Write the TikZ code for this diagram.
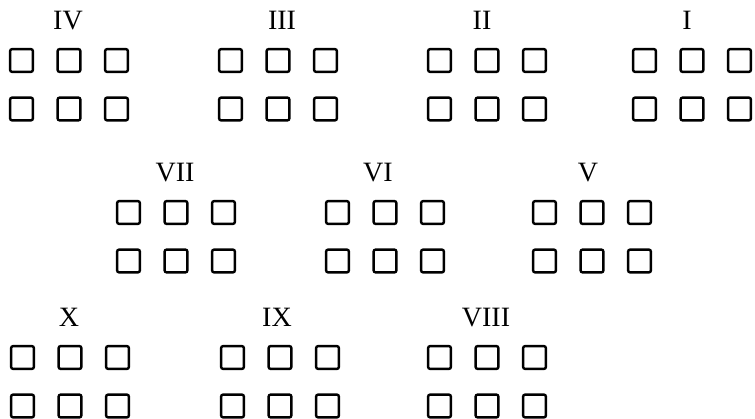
\documentclass[tikz,border=0pt]{standalone}
\usepackage{fontspec}
\setmainfont{Liberation Serif}
\begin{document}
\begin{tikzpicture}[x=0.5pt, y=-0.5pt,
    cell/.style={draw, line width=1.2pt, rounded corners=1pt, minimum size=11.4pt, inner sep=0pt},
    grouplabel/.style={font=\fontsize{14}{16}\selectfont, anchor=base, inner sep=0pt},
]
    \useasboundingbox (0,0) rectangle (755,418);
    % group / left edge / top edge / label centre
    \foreach \grp/\gx/\gy/\lx in {IV/9/48/68, III/218/48/282, II/427/48/482, I/632/48/687,
                                  VII/116/200/175, VI/325/200/378, V/532/200/588,
                                  X/10/345/69, IX/220/345/277, VIII/427/345/486} {
        \node[grouplabel] (lbl-\grp) at (\lx,\gy-19) {\grp};
        \foreach \r in {0,1} {
            \foreach \c in {0,1,2} {
                \node[cell] (\grp-\r-\c) at (\gx+12.5+47.5*\c, \gy+12.5+48.5*\r) {};
            }
        }
    }
\end{tikzpicture}
\end{document}
